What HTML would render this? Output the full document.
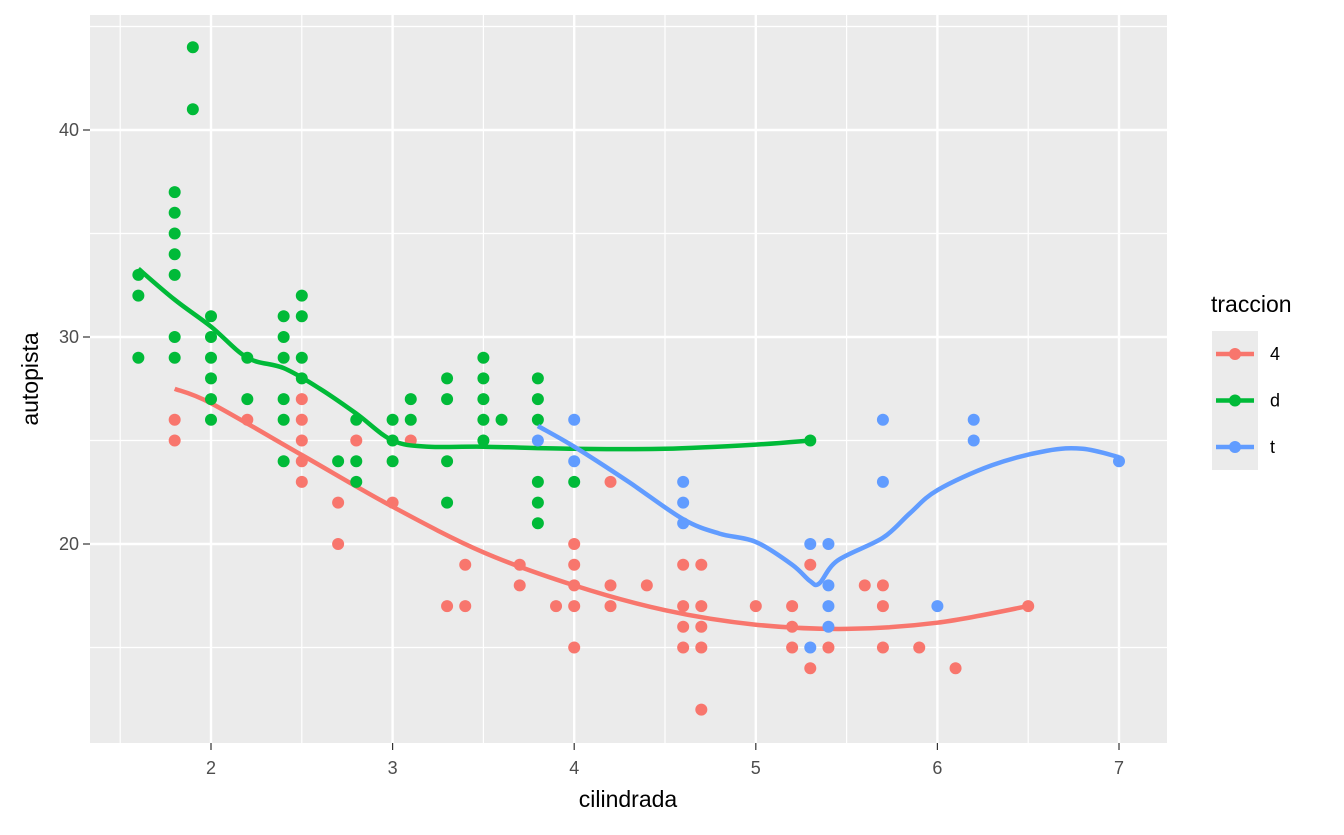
<!DOCTYPE html>
<html><head><meta charset="utf-8"><style>
body{margin:0;background:#fff;font-family:"Liberation Sans",sans-serif}
</style></head><body>
<svg id="chart" width="1344" height="830" xmlns="http://www.w3.org/2000/svg" font-family="Liberation Sans, sans-serif">
<rect x="90" y="15" width="1077" height="728" fill="#ebebeb"/>
<g id="grid"></g><g id="lines"></g><g id="points"></g><g id="axes"></g>
<text x="628" y="807" font-size="23" text-anchor="middle" fill="#000">cilindrada</text>
<text transform="translate(38,379) rotate(-90)" font-size="23" text-anchor="middle" fill="#000">autopista</text>
<g>
<text x="1211" y="312" font-size="23" fill="#000">traccion</text>
<rect x="1212" y="331" width="46" height="139" fill="#ebebeb"/>
<g id="legend-keys"></g>
</g>
</svg>
<script>
const drvLevels=["4","d","t"];
const colors={"4":"#F8766D","d":"#00BA38","t":"#619CFF"};
const pts4=[[1.8,26],[1.8,25],[2.2,26],[2.5,27],[2.5,26],[2.5,25],[2.5,24],[2.5,23],[2.7,22],[2.7,20],[2.8,25],[3.0,22],[3.1,25],[3.3,17],[3.4,19],[3.4,17],[3.7,19],[3.7,18],[3.9,17],[4.0,20],[4.0,19],[4.0,18],[4.0,17],[4.0,15],[4.2,23],[4.2,18],[4.2,17],[4.4,18],[4.6,19],[4.6,17],[4.6,16],[4.6,15],[4.7,19],[4.7,17],[4.7,16],[4.7,15],[4.7,12],[5.0,17],[5.2,17],[5.2,16],[5.2,15],[5.3,19],[5.3,14],[5.4,15],[5.6,18],[5.7,18],[5.7,17],[5.7,15],[5.9,15],[6.1,14],[6.5,17]];
const ptsD=[[1.6,33],[1.6,32],[1.6,29],[1.8,37],[1.8,36],[1.8,35],[1.8,34],[1.8,33],[1.8,30],[1.8,29],[1.9,44],[1.9,41],[2.0,31],[2.0,30],[2.0,29],[2.0,28],[2.0,27],[2.0,26],[2.2,29],[2.2,27],[2.4,31],[2.4,30],[2.4,29],[2.4,27],[2.4,26],[2.4,24],[2.5,32],[2.5,31],[2.5,29],[2.5,28],[2.7,24],[2.8,26],[2.8,24],[2.8,23],[3.0,26],[3.0,25],[3.0,24],[3.1,27],[3.1,26],[3.3,28],[3.3,27],[3.3,24],[3.3,22],[3.5,29],[3.5,28],[3.5,27],[3.5,26],[3.5,25],[3.6,26],[3.8,28],[3.8,27],[3.8,26],[3.8,23],[3.8,22],[3.8,21],[4.0,23],[5.3,25]];
const ptsT=[[3.8,25],[4.0,26],[4.0,24],[4.6,23],[4.6,22],[4.6,21],[5.3,20],[5.3,15],[5.4,20],[5.4,18],[5.4,17],[5.4,16],[5.7,26],[5.7,23],[6.0,17],[6.2,26],[6.2,25],[7.0,24]];
const fit4=[[1.8,27.5],[2.0,26.8],[2.5,24.3],[3.0,21.8],[3.5,19.6],[4.0,18.0],[4.5,16.8],[5.0,16.1],[5.5,15.9],[6.0,16.2],[6.5,17.0]];
const fitD=[[1.6,33.3],[1.8,31.8],[2.0,30.5],[2.2,29.0],[2.4,28.5],[2.6,27.5],[2.8,26.3],[3.0,25.0],[3.2,24.7],[3.5,24.7],[4.0,24.6],[4.5,24.6],[5.0,24.8],[5.3,25.0]];
const fitT=[[3.8,25.7],[4.0,24.7],[4.3,23.0],[4.6,21.2],[4.8,20.5],[5.0,20.1],[5.2,19.0],[5.3,18.2],[5.35,18.1],[5.45,19.2],[5.7,20.3],[5.85,21.5],[6.0,22.6],[6.3,23.8],[6.6,24.5],[6.8,24.6],[7.0,24.2]];
const xTicks=[2,3,4,5,6,7];
const xMinor=[1.5,2.5,3.5,4.5,5.5,6.5];
const yTicks=[20,30,40];
const yMinor=[15,25,35,45];

const NS="http://www.w3.org/2000/svg";
const X=v=>211+(v-2)*181.6;
const Y=v=>544-(v-20)*20.7;
function mk(tag,attrs,parent){const e=document.createElementNS(NS,tag);for(const k in attrs)e.setAttribute(k,attrs[k]);parent.appendChild(e);return e;}
function smooth(pp){let d='M'+pp[0][0].toFixed(1)+','+pp[0][1].toFixed(1);
 for(let i=0;i<pp.length-1;i++){const p0=pp[i-1]||pp[i],p1=pp[i],p2=pp[i+1],p3=pp[i+2]||p2;
  const c1=[p1[0]+(p2[0]-p0[0])/6,p1[1]+(p2[1]-p0[1])/6],c2=[p2[0]-(p3[0]-p1[0])/6,p2[1]-(p3[1]-p1[1])/6];
  d+=' C'+c1.map(v=>v.toFixed(1)).join(',')+' '+c2.map(v=>v.toFixed(1)).join(',')+' '+p2.map(v=>v.toFixed(1)).join(',');}
 return d;}
const grid=document.getElementById('grid'),axes=document.getElementById('axes');
xMinor.forEach(v=>{const l=mk('line',{x1:X(v),x2:X(v),y1:15,y2:743,stroke:'#fff','stroke-width':1.2},grid);});
yMinor.forEach(v=>{const l=mk('line',{x1:90,x2:1167,y1:Y(v),y2:Y(v),stroke:'#fff','stroke-width':1.2},grid);});
xTicks.forEach(v=>{const l=mk('line',{x1:X(v),x2:X(v),y1:15,y2:743,stroke:'#fff','stroke-width':2.4},grid);
 const t=mk('line',{x1:X(v),x2:X(v),y1:743,y2:750,stroke:'#333','stroke-width':1.2},axes);
 const tx=mk('text',{x:X(v),y:774,'font-size':18,'text-anchor':'middle',fill:'#4d4d4d'},axes);tx.textContent=v;});
yTicks.forEach(v=>{const l=mk('line',{x1:90,x2:1167,y1:Y(v),y2:Y(v),stroke:'#fff','stroke-width':2.4},grid);
 const t=mk('line',{x1:83,x2:90,y1:Y(v),y2:Y(v),stroke:'#333','stroke-width':1.2},axes);
 const tx=mk('text',{x:79,y:Y(v)+6,'font-size':18,'text-anchor':'end',fill:'#4d4d4d'},axes);tx.textContent=v;});
const pg=document.getElementById('points');
[["4",pts4,fit4],["d",ptsD,fitD],["t",ptsT,fitT]].forEach(([k,pts,fit])=>{
 pts.forEach(p=>{const c=mk('circle',{cx:X(p[0]),cy:Y(p[1]),r:6,fill:colors[k]},pg);});
 const d=smooth(fit.map(p=>[X(p[0]),Y(p[1])]));
 const pl=mk('path',{d:d,fill:'none',stroke:colors[k],'stroke-width':4.5,'stroke-linejoin':'round'},pg);
});
const lk=document.getElementById('legend-keys');
drvLevels.forEach((k,i)=>{const y=354+i*46.5;
 const l=mk('line',{x1:1216,x2:1254,y1:y,y2:y,stroke:colors[k],'stroke-width':4.5},lk);
 const c=mk('circle',{cx:1235,cy:y,r:6,fill:colors[k]},lk);
 const t=mk('text',{x:1270,y:y+6,'font-size':18,fill:'#000'},lk);t.textContent=k;});
</script>
</body></html>
